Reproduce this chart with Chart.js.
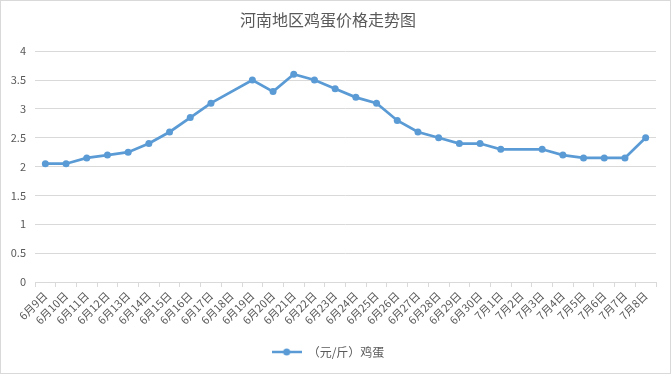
<!DOCTYPE html>
<html>
<head>
<meta charset="utf-8">
<script src="https://cdn.jsdelivr.net/npm/chart.js@4/dist/chart.umd.min.js"></script>
<style>
  html, body { margin: 0; padding: 0; background: #fff; }
  #wrap { width: 671px; height: 374px; }
</style>
</head>
<body>
<div id="wrap"><canvas id="eggChart" width="671" height="374"></canvas></div>
<script>
// x categories
const dateLabels = [
    '6月9日', '6月10日', '6月11日', '6月12日', '6月13日', '6月14日', '6月15日',
    '6月16日', '6月17日', '6月18日', '6月19日', '6月20日', '6月21日', '6月22日',
    '6月23日', '6月24日', '6月25日', '6月26日', '6月27日', '6月28日', '6月29日',
    '6月30日', '7月1日', '7月2日', '7月3日', '7月4日', '7月5日', '7月6日',
    '7月7日', '7月8日'
];

// price per jin, null where no value was recorded
const eggPrices = [
    2.05, 2.05, 2.15, 2.2, 2.25, 2.4, 2.6,
    2.85, 3.1, null, 3.5, 3.3, 3.6, 3.5,
    3.35, 3.2, 3.1, 2.8, 2.6, 2.5, 2.4,
    2.4, 2.3, null, 2.3, 2.2, 2.15, 2.15,
    2.15, 2.5
];

const yTicks = [0, 0.5, 1, 1.5, 2, 2.5, 3, 3.5, 4];

const seriesName = '（元/斤）鸡蛋';
const chartTitle = '河南地区鸡蛋价格走势图';

const lineColor = '#5B9BD5';
const textColor = '#595959';
const gridColor = '#d9d9d9';
const fontFamily = '"Noto Sans CJK SC", "Noto Sans", sans-serif';

// legend marker: short line with a dot in the middle
function makeLegendMarker() {
    const c = document.createElement('canvas');
    c.width = 30;
    c.height = 10;
    const g = c.getContext('2d');
    g.strokeStyle = lineColor;
    g.lineWidth = 2.5;
    g.beginPath();
    g.moveTo(0, 5);
    g.lineTo(30, 5);
    g.stroke();
    g.fillStyle = lineColor;
    g.beginPath();
    g.arc(15, 5, 3.5, 0, Math.PI * 2);
    g.fill();
    return c;
}
const legendMarker = makeLegendMarker();

const frame = {
    id: 'frame',
    beforeDraw(chart) {
        const ctx = chart.ctx;
        ctx.save();
        ctx.fillStyle = '#fff';
        ctx.fillRect(0, 0, chart.width, chart.height);
        ctx.restore();
    },
    afterDraw(chart) {
        const ctx = chart.ctx;
        ctx.save();
        ctx.strokeStyle = gridColor;
        ctx.lineWidth = 1;
        ctx.strokeRect(0.5, 0.5, chart.width - 1, chart.height - 1);
        ctx.restore();
    }
};

const ctx = document.getElementById('eggChart').getContext('2d');
new Chart(ctx, {
    type: 'line',
    data: {
        labels: dateLabels,
        datasets: [{
            label: seriesName,
            data: eggPrices,
            borderColor: lineColor,
            backgroundColor: lineColor,
            borderWidth: 2.75,
            pointRadius: 3.5,
            pointBackgroundColor: lineColor,
            pointBorderColor: lineColor,
            pointBorderWidth: 0,
            tension: 0,
            spanGaps: true
        }]
    },
    options: {
        responsive: false,
        animation: false,
        devicePixelRatio: 1,
        layout: { padding: { left: 0, right: 15, top: 0, bottom: 6 } },
        plugins: {
            title: {
                display: true,
                text: chartTitle,
                color: textColor,
                font: { family: fontFamily, size: 16, weight: 'normal' },
                padding: { top: 10, bottom: 22 }
            },
            legend: {
                position: 'bottom',
                labels: {
                    color: textColor,
                    font: { family: fontFamily, size: 12 },
                    usePointStyle: true,
                    pointStyleWidth: 30,
                    padding: 10,
                    generateLabels: (chart) => [{
                        text: seriesName,
                        fontColor: textColor,
                        pointStyle: legendMarker,
                        datasetIndex: 0,
                        lineWidth: 0,
                        hidden: false
                    }]
                }
            },
            tooltip: { enabled: false }
        },
        scales: {
            x: {
                offset: true,
                grid: {
                    offset: true,
                    drawOnChartArea: false,
                    drawTicks: true,
                    tickLength: 5,
                    color: gridColor
                },
                border: { color: gridColor },
                ticks: {
                    autoSkip: false,
                    maxRotation: 45,
                    minRotation: 45,
                    padding: 2,
                    color: textColor,
                    font: { family: fontFamily, size: 11 }
                },
                afterFit: (scale) => { scale.height = 54; }
            },
            y: {
                min: yTicks[0],
                max: yTicks[yTicks.length - 1],
                afterBuildTicks: (scale) => { scale.ticks = yTicks.map(v => ({ value: v })); },
                grid: { color: gridColor, drawTicks: false },
                border: { display: false },
                ticks: {
                    padding: 9,
                    color: textColor,
                    font: { family: fontFamily, size: 11 },
                    callback: (value) => String(value)
                },
                afterFit: (scale) => { scale.width = 35; }
            }
        }
    },
    plugins: [frame]
});
</script>
</body>
</html>
